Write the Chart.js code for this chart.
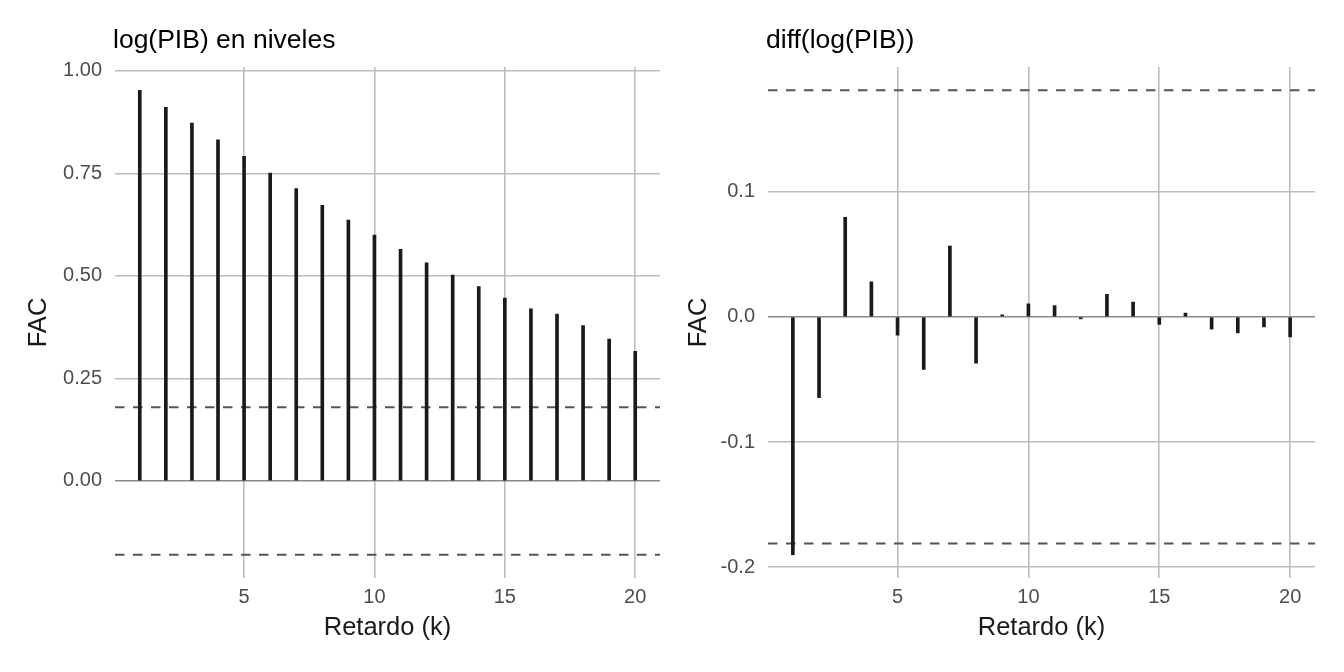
<!DOCTYPE html>
<html><head><meta charset="utf-8">
<script src="https://cdn.jsdelivr.net/npm/chart.js@4/dist/chart.umd.min.js"></script>
<style>
html,body{margin:0;padding:0;background:#fff;}
#wrap{position:relative;width:1344px;height:672px;overflow:hidden;}
canvas{position:absolute;top:0;}
</style></head><body>
<div id="wrap">
<canvas id="c1" width="672" height="672" style="left:0;width:672px;height:672px"></canvas>
<canvas id="c2" width="672" height="672" style="left:672px;width:672px;height:672px"></canvas>
</div>
<script>
// ---- data ----
const lags = [1,2,3,4,5,6,7,8,9,10,11,12,13,14,15,16,17,18,19,20];
const acfLevels = [0.953,0.911,0.873,0.832,0.792,0.751,0.713,0.672,0.636,0.600,0.565,0.532,0.502,0.474,0.446,0.420,0.407,0.379,0.346,0.316];
const acfDiff = [-0.190,-0.0645,0.0795,0.028,-0.0146,-0.042,0.0566,-0.037,0.0016,0.0104,0.009,-0.0016,0.018,0.0118,-0.006,0.003,-0.0098,-0.0128,-0.008,-0.016];
const confLevels = 0.180;
const confDiff = 0.181;
const xTicks = [5,10,15,20];
const yTicksLevels = [0,0.25,0.5,0.75,1];
const yTicksDiff = [-0.2,-0.1,0,0.1];
const panelTitles = ['log(PIB) en niveles','diff(log(PIB))'];
const xAxisTitle = 'Retardo (k)';
const yAxisTitle = 'FAC';

Chart.defaults.font.family = "'Liberation Sans', Arial, sans-serif";
Chart.defaults.devicePixelRatio = 1;

const titlePlugin = {
  id: 'panelTitle',
  afterDraw(chart, args, opts) {
    const c = chart.ctx;
    c.save();
    c.font = "26.5px 'Liberation Sans', Arial, sans-serif";
    c.fillStyle = '#000';
    c.textBaseline = 'alphabetic';
    c.textAlign = 'left';
    c.fillText(opts.text, chart.chartArea.left - 2, 48);
    c.restore();
  }
};

function makePanel(id, vals, conf, yTicks, dec, title, axisW, yTitlePad, padRight) {
  const xmin = lags[0] - 0.05 * (lags[lags.length-1] - lags[0]);
  const xmax = lags[lags.length-1] + 0.05 * (lags[lags.length-1] - lags[0]);
  const lo = Math.min(Math.min(...vals), -conf, 0);
  const hi = Math.max(Math.max(...vals), conf, 0);
  const ymin = lo - 0.05 * (hi - lo);
  const ymax = hi + 0.05 * (hi - lo);
  const dashed = (v) => ({
    type: 'line',
    data: [{x: xmin, y: v}, {x: xmax, y: v}],
    borderColor: '#555555',
    borderWidth: 2,
    borderDash: [9.5, 8.5],
    pointRadius: 0,
    order: 2
  });
  return new Chart(document.getElementById(id), {
    type: 'bar',
    data: {
      datasets: [
        {
          type: 'bar',
          data: lags.map((l, i) => ({x: l, y: vals[i]})),
          backgroundColor: '#1a1a1a',
          borderWidth: 0,
          barThickness: 3,
          order: 1
        },
        dashed(conf),
        dashed(-conf)
      ]
    },
    options: {
      responsive: false,
      animation: false,
      events: [],
      layout: {padding: {top: 67, right: padRight, bottom: 0, left: 0}},
      plugins: {legend: {display: false}, tooltip: {enabled: false}, panelTitle: {text: title}},
      scales: {
        x: {
          type: 'linear', min: xmin, max: xmax, offset: false,
          afterBuildTicks: s => { s.ticks = xTicks.map(v => ({value: v})); },
          afterFit: s => { s.height = 94; },
          ticks: {color: '#4d4d4d', font: {size: 20}, padding: 7, maxRotation: 0, autoSkip: false},
          grid: {color: '#bdbdbd', lineWidth: 1.6, drawTicks: false, offset: false},
          border: {display: false},
          title: {display: true, text: xAxisTitle, color: '#1a1a1a', font: {size: 25.5, lineHeight: 1}, padding: {top: 0, bottom: 31}}
        },
        y: {
          type: 'linear', min: ymin, max: ymax,
          afterBuildTicks: s => { s.ticks = yTicks.map(v => ({value: v})); },
          afterFit: s => { s.width = axisW; },
          ticks: {color: '#4d4d4d', font: {size: 20}, padding: 13, callback: v => v.toFixed(dec)},
          grid: {
            color: ctx => (ctx.tick && Math.abs(ctx.tick.value) < 1e-9) ? '#8a8a8a' : '#bdbdbd',
            lineWidth: 1.6, drawTicks: false
          },
          border: {display: false},
          title: {display: true, text: yAxisTitle, color: '#1a1a1a', font: {size: 25.5, lineHeight: 1}, padding: {top: yTitlePad, bottom: 0}}
        }
      }
    },
    plugins: [titlePlugin]
  });
}

makePanel('c1', acfLevels, confLevels, yTicksLevels, 2, panelTitles[0], 115, 26, 12);
makePanel('c2', acfDiff, confDiff, yTicksDiff, 1, panelTitles[1], 96, 14, 29);
</script>
</body></html>
